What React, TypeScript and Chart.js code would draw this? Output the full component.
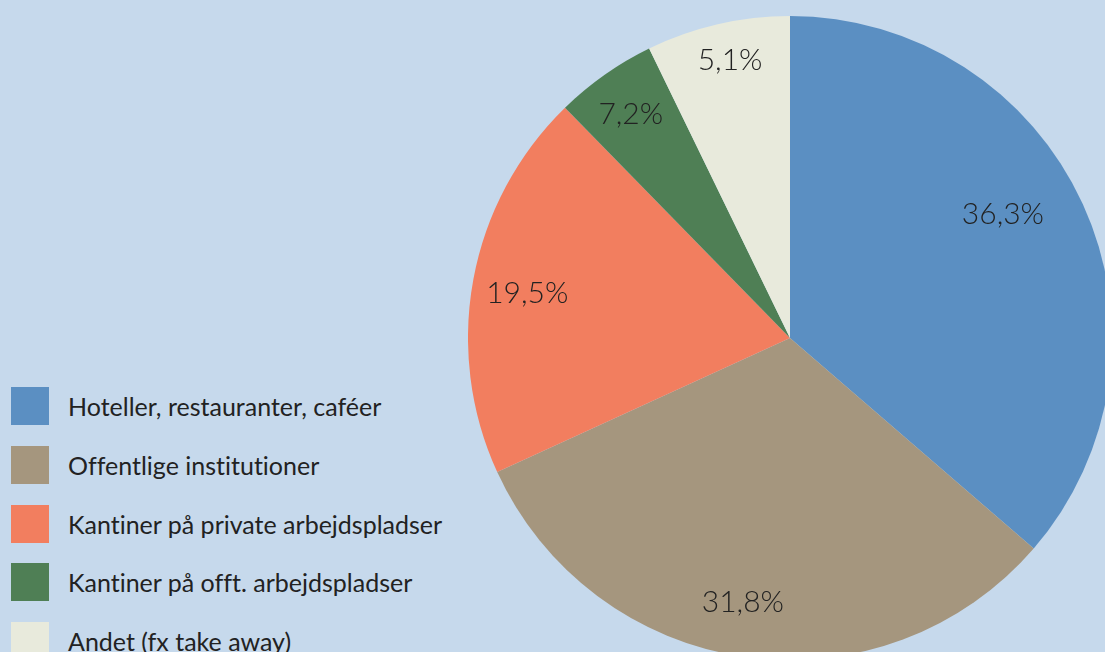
import React, { useEffect, useRef } from "react";
import { Chart, registerables } from "chart.js";

Chart.register(...registerables);

const categories = [
  "Hoteller, restauranter, caféer",
  "Offentlige institutioner",
  "Kantiner på private arbejdspladser",
  "Kantiner på offt. arbejdspladser",
  "Andet (fx take away)",
];
// slice sizes as drawn in the reference
const shares = [36.3, 31.8, 19.5, 5.1, 7.2];
// label texts as printed in the reference
const valueLabels = ["36,3%", "31,8%", "19,5%", "7,2%", "5,1%"];
const colors = ["#5b8fc2", "#a5967e", "#f27e5f", "#4f7f55", "#e8eadc"];

const BG = "#c6d9ec";

// label placement style: fraction of radius and angular nudge (degrees)
const labelRadiusFactor = [0.765, 0.834, 0.828, 0.853, 0.883];
const labelAngleNudge = [-5.6, 2, -0.8, -0.3, 0.8];

const labelPlugin = {
  id: "sliceLabels",
  afterDatasetsDraw(chart: any) {
    const ctx = chart.ctx;
    const meta = chart.getDatasetMeta(0);
    ctx.save();
    ctx.font = "300 30px Lato";
    ctx.fillStyle = "#222222";
    ctx.textAlign = "center";
    ctx.textBaseline = "middle";
    meta.data.forEach((arc: any, i: number) => {
      const p = arc.getProps(["x", "y", "startAngle", "endAngle", "outerRadius"], true);
      const mid = (p.startAngle + p.endAngle) / 2 + (labelAngleNudge[i] * Math.PI) / 180;
      const r = p.outerRadius * labelRadiusFactor[i];
      ctx.fillText(valueLabels[i], p.x + Math.cos(mid) * r, p.y + Math.sin(mid) * r);
    });
    ctx.restore();
  },
};

export default function App() {
  const ref = useRef<HTMLCanvasElement | null>(null);
  useEffect(() => {
    if (!ref.current) return;
    const chart = new Chart(ref.current, {
      type: "pie",
      data: {
        labels: categories,
        datasets: [
          {
            data: shares,
            backgroundColor: colors,
            borderWidth: 0,
          },
        ],
      },
      options: {
        animation: false,
        responsive: false,
        maintainAspectRatio: false,
        layout: { padding: 0 },
        plugins: {
          legend: { display: false },
          tooltip: { enabled: false },
        },
      },
      plugins: [labelPlugin],
    });
    return () => chart.destroy();
  }, []);

  return (
    <div
      style={{
        position: "fixed",
        left: 0,
        top: 0,
        width: 1105,
        height: 652,
        background: BG,
        overflow: "hidden",
        fontFamily: "Lato, sans-serif",
        fontVariantLigatures: "none",
      }}
    >
      <canvas
        ref={ref}
        width={644}
        height={644}
        style={{ position: "absolute", left: 468, top: 16, width: 644, height: 644 }}
      />
      {categories.map((c, i) => (
        <div
          key={c}
          style={{
            position: "absolute",
            left: 11,
            top: 387 + i * 58.8,
            height: 38,
            display: "flex",
            alignItems: "center",
            whiteSpace: "nowrap",
          }}
        >
          <div style={{ width: 38, height: 38, background: colors[i], flex: "none" }} />
          <span
            style={{
              marginLeft: 19,
              fontSize: 25,
              color: "#222",
              lineHeight: "38px",
              fontVariantLigatures: "none",
            }}
          >
            {c}
          </span>
        </div>
      ))}
    </div>
  );
}
